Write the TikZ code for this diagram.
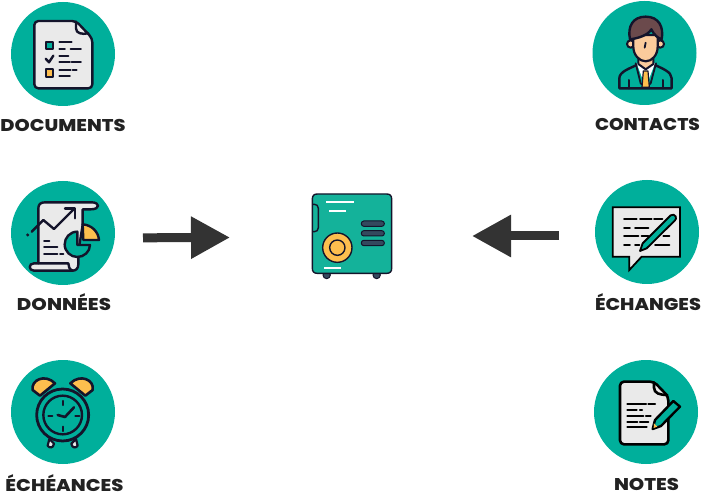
\documentclass[tikz,border=0pt]{standalone}
\usepackage{fontspec}
\usepackage{graphicx}
\usetikzlibrary{arrows.meta}
\newfontfamily\labf{Poppins}[UprightFont={* ExtraBold}]
\definecolor{teal1}{HTML}{00AF9B}
\definecolor{ink}{HTML}{14142B}
\definecolor{paper}{HTML}{EAEAEA}
\definecolor{gold}{HTML}{FDBE4E}
\definecolor{safe}{HTML}{14B29A}
\definecolor{slate}{HTML}{34495E}
\definecolor{hair}{HTML}{6B4A4C}
\definecolor{skin}{HTML}{FBCB9C}
\definecolor{txt}{HTML}{222222}
\definecolor{arrowc}{HTML}{333333}
\newcommand{\lab}[2]{\resizebox{#1pt}{\height}{\labf\fontsize{17}{19}\selectfont #2}}
\tikzset{
  disc/.style={circle,fill=teal1,minimum size=104pt,inner sep=0pt,draw=none},
  labelnode/.style={anchor=base,inner sep=0pt,text=txt},
  icon/.style={line width=2.4pt,draw=ink,line cap=round,line join=round},
  txtline/.style={line width=1.9pt,draw=ink,line cap=round},
  bigarrow/.style={draw=arrowc,line width=9pt,-{Triangle[length=39pt,width=40pt,fill=arrowc]}},
  zoomed/.style={x=0.33333pt,y=-0.33333pt}
}
\begin{document}
\begin{tikzpicture}[x=1pt,y=-1pt]
\useasboundingbox (0,0) rectangle (702,497);
% discs
\node[disc] (d1) at (63,54) {};
\node[disc] (d2) at (63,233) {};
\node[disc] (d3) at (63,412) {};
\node[disc] (d4) at (644.5,53) {};
\node[disc] (d5) at (647,232) {};
\node[disc] (d6) at (646,412) {};
% labels
\node[labelnode] (l1) at (63,131.5) {\lab{125}{DOCUMENTS}};
\node[labelnode] (l2) at (64,310.5) {\lab{94}{DONNÉES}};
\node[labelnode] (l3) at (64.5,491.5) {\lab{118}{ÉCHÉANCES}};
\node[labelnode] (l4) at (647.5,130.5) {\lab{105}{CONTACTS}};
\node[labelnode] (l5) at (648,310.5) {\lab{106}{ÉCHANGES}};
\node[labelnode] (l6) at (646.5,490.5) {\lab{65}{NOTES}};
% arrows
\coordinate (a1) at (143,237.8);
\coordinate (b1) at (230,237.5);
\coordinate (a2) at (559,236);
\coordinate (b2) at (472,236);
\draw[bigarrow] (a1) -- (b1);
\draw[bigarrow] (a2) -- (b2);
% DOCUMENTS icon
\begin{scope}[zoomed]
\draw[icon,fill=paper,rounded corners=4pt] (103,63) -- (228,63) -- (277,115) -- (277,265) -- (103,265) -- cycle;
\draw[icon] (228,65) -- (228,85) .. controls (228,100) and (245,104) .. (265,100);
\draw[icon,fill=teal1,line width=2pt] (137,127) rectangle (160,148);
\draw[icon,fill=gold,line width=2pt] (137,208) rectangle (160,230);
\draw[icon] (137,176) -- (147,187) -- (160,167);
\foreach \xa/\xb/\ya in {178/215/127,178/195/146,212/243/146,178/205/167,178/210/187,215/243/187,178/212/209,218/230/209,178/210/228}
  \draw[txtline] (\xa,\ya) -- (\xb,\ya);
\end{scope}
% DONNEES icon
\begin{scope}[yshift=-175pt,zoomed]
\draw[icon,fill=paper] (135,82) -- (275,82) .. controls (300,82) and (302,103) .. (272,103) -- (248,103) -- (248,150) -- (235,230) -- (235,268) .. controls (235,280) and (228,287) .. (218,287) -- (102,287) .. controls (85,287) and (85,265) .. (102,265) -- (115,265) -- (115,100) .. controls (115,88) and (122,82) .. (135,82) -- cycle;
\draw[icon] (115,265) -- (205,265) .. controls (205,275) and (208,283) .. (218,287);
\draw[icon,fill=gold] (248,148) .. controls (275,150) and (295,170) .. (297,195) -- (250,195) -- cycle;
\draw[icon,fill=teal1] (232,170) .. controls (210,170) and (194,188) .. (194,208) .. controls (194,230) and (212,246) .. (232,246) .. controls (252,246) and (270,230) .. (270,210) -- (232,210) -- cycle;
\draw[icon] (95,170) -- (130,135) -- (162,162) -- (222,102);
\draw[icon] (195,100) -- (225,100) -- (225,130);
\fill[ink] (83,180) circle (5);
\foreach \xa/\xb/\ya in {132/148/197,132/172/215,132/172/238,180/190/238}
  \draw[txtline] (\xa,\ya) -- (\xb,\ya);
\end{scope}
% ECHEANCES icon
\begin{scope}[yshift=-355pt,zoomed]
\draw[icon,fill=gold,line width=2.6pt] (120,122) -- (98,105) .. controls (92,75) and (135,55) .. (165,85) -- cycle;
\draw[icon,fill=gold,line width=2.6pt] (256,122) -- (278,105) .. controls (284,75) and (241,55) .. (211,85) -- cycle;
\draw[icon,line width=2.2pt,fill=paper] (148,252) -- (143,272) .. controls (148,280) and (160,280) .. (162,266) -- cycle;
\draw[icon,line width=2.2pt,fill=paper] (228,252) -- (233,272) .. controls (228,280) and (216,280) .. (214,266) -- cycle;
\draw[icon,line width=2.8pt,fill=teal1] (188,180) circle (78);
\draw[icon,line width=2.4pt] (188,180) circle (58);
\draw[icon,line width=2.6pt] (173,180) -- (195,186) -- (222,157);
\foreach \xa/\ya/\xb/\yb in {188/138/188/150,188/215/188/228,145/184/157/184,226/184/238/184}
  \draw[icon,line width=2.2pt] (\xa,\ya) -- (\xb,\yb);
\end{scope}
% CONTACTS icon
\begin{scope}[xshift=580pt,zoomed]
\draw[icon,fill=teal1] (118,265) -- (118,235) .. controls (118,215) and (150,205) .. (170,195) -- (225,195) .. controls (245,205) and (275,215) .. (275,235) -- (275,265) -- cycle;
\fill[white] (170,190) -- (225,190) -- (197,262) -- cycle;
\draw[icon,line width=1.8pt] (167,190) -- (182,250) -- (197,262);
\draw[icon,line width=1.8pt] (228,190) -- (212,250) -- (197,262);
\draw[icon,fill=gold,line width=1.2pt] (190,213) -- (204,213) -- (208,262) -- (186,262) -- cycle;
\draw[icon,line width=2pt] (148,240) -- (148,265) (248,240) -- (248,265);
\draw[icon,fill=skin,line width=2pt] (175,170) -- (175,192) -- (197,208) -- (220,192) -- (220,170) -- cycle;
\draw[icon,fill=skin,line width=2pt] (152,132) circle (11);
\draw[icon,fill=skin,line width=2pt] (241,132) circle (11);
\draw[icon,fill=skin,line width=2.2pt] (160,105) -- (160,140) .. controls (160,165) and (178,184) .. (197,184) .. controls (216,184) and (233,165) .. (233,140) -- (233,105) -- cycle;
\draw[icon,fill=hair,line width=2.4pt] (150,118) .. controls (142,80) and (158,50) .. (197,50) .. controls (236,50) and (252,80) .. (245,118) .. controls (235,115) and (222,105) .. (214,88) .. controls (205,105) and (175,115) .. (150,118) -- cycle;
\draw[icon,line width=1.8pt] (197,128) -- (194,143);
\end{scope}
% ECHANGES icon
\begin{scope}[xshift=580pt,yshift=-175pt,zoomed]
\draw[draw=black,fill=paper,line width=1.8pt,line join=miter] (98,97) -- (300,97) -- (300,245) -- (185,245) -- (148,285) -- (148,245) -- (98,245) -- cycle;
\foreach \xa/\xb/\ya in {132/170/133,180/215/133,222/247/133,132/150/158,165/205/158,132/175/184,185/205/184,250/268/184,132/150/211,165/178/211,225/268/211}
  \draw[txtline,draw=black] (\xa,\ya) -- (\xb,\ya);
\draw[draw=black,fill=teal1,line width=1.8pt,line join=round] (272,121) .. controls (278,116) and (284,120) .. (287,124) .. controls (289,130) and (288,133) .. (285,136) -- (200,220) -- (180,228) -- (188,205) -- cycle;
\end{scope}
% NOTES icon
\begin{scope}[xshift=580pt,yshift=-355pt,zoomed]
\draw[draw=black,fill=paper,line width=2.6pt,rounded corners=4pt,line join=round] (120,80) -- (222,80) -- (265,125) -- (265,268) -- (120,268) -- cycle;
\draw[draw=black,line width=2.6pt,line cap=round] (222,82) -- (222,98) .. controls (222,115) and (240,120) .. (262,120);
\foreach \xa/\xb/\ya in {142/198/148,205/225/148,142/170/165,180/186/165,142/190/182,198/212/182,142/172/200,180/205/200,142/200/217}
  \draw[black,line width=2.2pt,line cap=round] (\xa,\ya) -- (\xb,\ya);
\draw[draw=black,fill=teal1,line width=2.4pt,line join=round] (280,138) -- (300,155) -- (243,213) -- (218,222) -- (225,195) -- cycle;
\fill[gold] (222,205) -- (232,215) -- (221,219) -- cycle;
\end{scope}
% SAFE icon
\begin{scope}[xshift=300pt,yshift=-185pt,zoomed]
\fill[slate,draw=ink,line width=1pt] (80,270) circle (11);
\fill[slate,draw=ink,line width=1pt] (230,270) circle (11);
\draw[draw=ink,fill=safe,line width=1.4pt] (37,42) .. controls (37,32) and (42,27) .. (52,27) -- (260,27) .. controls (270,27) and (275,32) .. (275,42) -- (275,250) .. controls (275,260) and (270,265) .. (260,265) -- (52,265) .. controls (42,265) and (37,260) .. (37,250) -- cycle;
\draw[draw=ink,line width=1.4pt] (37,58) -- (43,58) .. controls (50,58) and (55,62) .. (55,70) -- (55,128) .. controls (55,136) and (50,140) .. (43,140) -- (37,140);
\foreach \xa/\xb/\ya in {78/162/51,87/138/77,72/122/250}
  \draw[white,line width=1.7pt] (\xa,\ya) -- (\xb,\ya);
\foreach \ya in {116,145,174}
  \draw[draw=ink,fill=slate,line width=1pt,rounded corners=2.5pt] (184,\ya-8) rectangle (253,\ya+8);
\draw[draw=ink,fill=gold,line width=1.4pt] (112,188) circle (44);
\draw[draw=ink,line width=1.4pt] (112,188) circle (23);
\end{scope}
\end{tikzpicture}
\end{document}
